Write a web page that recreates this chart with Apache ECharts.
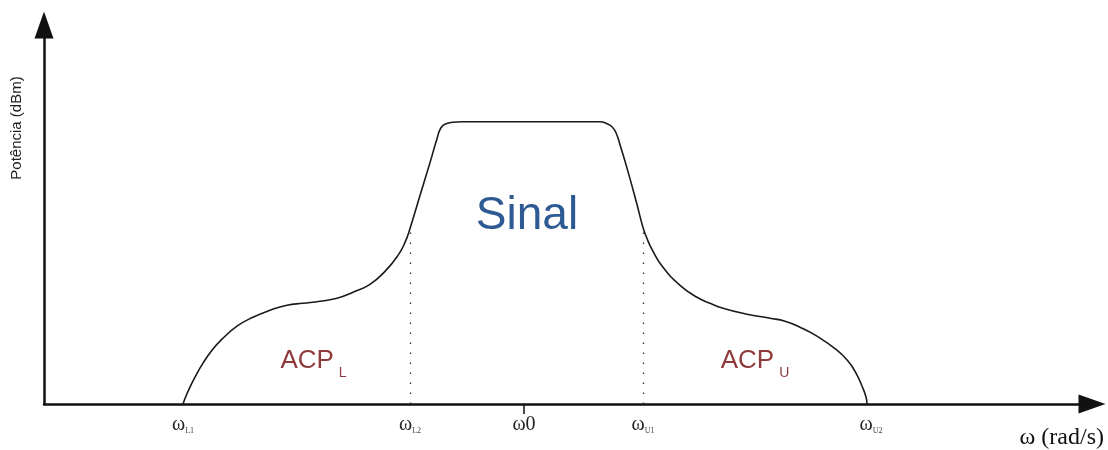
<!DOCTYPE html>
<html>
<head>
<meta charset="utf-8">
<script src="https://cdn.jsdelivr.net/npm/echarts@6/dist/echarts.min.js"></script>
<style>html,body{margin:0;padding:0;background:#fff;}#c{width:1108px;height:450px;}</style>
</head>
<body>
<div id="c"></div>
<script>
// Frequency offset (arbitrary units, ω0 = 0) and power (arbitrary dB units above floor)
const freq = [-34.1,-33.8,-33.4,-32.9,-32.1,-31.2,-30.2,-28.7,-27.1,-25.4,-23.7,-22.1,-20.4,-18.7,-17.1,-15.4,-13.9,-12.6,-11.9,-11.4,
              -10.4,-9.4,-8.7,-8.3,-7.8,-7.1,-6.2,
              7.6,8.3,8.8,9.2,9.6,10.4,11.3,11.9,12.3,12.8,13.9,15.6,17.3,18.6,19.9,22.3,24.6,26.1,27.6,29.3,31.3,32.4,33.2,33.8,34.2,34.3];
const power = [0,0.8,1.7,2.7,4.1,5.4,6.5,7.8,8.7,9.4,9.9,10.1,10.3,10.6,11.2,12.0,13.3,14.9,16.2,17.6,
               20.9,24.2,26.6,27.7,28.1,28.25,28.3,
               28.3,28.1,27.8,27.2,26.0,23.3,20.0,17.7,16.6,15.5,13.7,11.9,10.7,10.1,9.6,9.0,8.6,8.3,7.7,6.8,5.4,4.3,3.1,1.8,0.7,0];
const tickValues = [-34.1, -11.4, 0, 11.9, 34.7];
const tickLabels = ['{w|ω}{s|L1}', '{w|ω}{s|L2}', '{w|ω0}', '{w|ω}{s|U1}', '{w|ω}{s|U2}'];
const boundaryFreq = [-11.4, 11.9];
const boundaryPower = [17.3, 17.3];
const annotations = [
  {name: 'Sinal', freq: 0.3, power: 18.8},
  {name: 'ACP_L', freq: -21.05, power: 4.3},
  {name: 'ACP_U', freq: 23.1, power: 4.3}
];
const xName = 'ω (rad/s)';
const yName = 'Potência (dBm)';

const chart = echarts.init(document.getElementById('c'), null, {renderer: 'canvas'});
const curve = freq.map((f, i) => [f, power[i]]);
const ann = annotations.map(a => {
  let fmt;
  if (a.name === 'Sinal') { fmt = '{b|Sinal}'; }
  else { const p = a.name.split('_'); fmt = '{a|' + p[0] + '}{s|' + p[1] + '}'; }
  return {coord: [a.freq, a.power], value: a.name, fmt: fmt};
});
const option = {
  animation: false,
  grid: {left: 44, right: 16, top: 25, bottom: 45},
  xAxis: {
    type: 'value', min: -48, max: 56.8,
    axisLine: {show: true, lineStyle: {color: '#111', width: 2.5}, symbol: ['none', 'triangle'], symbolSize: [19, 27]},
    axisTick: {show: true, customValues: [0], length: 10, lineStyle: {color: '#111', width: 1.5}},
    splitLine: {show: false},
    axisLabel: {
      customValues: tickValues, margin: 11,
      formatter: v => { const i = tickValues.indexOf(v); return i >= 0 ? tickLabels[i] : ''; },
      rich: {
        w: {fontFamily: 'Liberation Serif', fontSize: 20, color: '#222'},
        s: {fontFamily: 'Liberation Serif', fontSize: 8, color: '#444', verticalAlign: 'bottom', padding: [7, 0, 0, 0]}
      }
    },
    name: xName, nameLocation: 'end', nameGap: 0,
    nameTextStyle: {fontFamily: 'Liberation Serif', fontSize: 24, color: '#111', align: 'right', verticalAlign: 'top', padding: [22, -12, 0, 0]}
  },
  yAxis: {
    type: 'value', min: 0, max: 38,
    axisLine: {show: true, onZero: false, lineStyle: {color: '#111', width: 2.5}, symbol: ['none', 'triangle'], symbolSize: [19, 27]},
    axisTick: {show: false}, axisLabel: {show: false}, splitLine: {show: false}
  },
  graphic: [{
    type: 'text', x: 17, y: 128, rotation: Math.PI / 2,
    style: {text: yName, fontFamily: 'Liberation Sans', fontSize: 15, fill: '#222', align: 'center', verticalAlign: 'middle'}
  }],
  series: [{
    type: 'line', data: curve, smooth: 0.5, symbol: 'none', clip: false,
    lineStyle: {color: '#1a1a1a', width: 1.6},
    markLine: {
      silent: true, symbol: 'none', label: {show: false},
      lineStyle: {color: '#333', width: 1.3, type: [1.5, 8.5]},
      data: boundaryFreq.map((f, i) => [{coord: [f, 0]}, {coord: [f, boundaryPower[i]]}])
    },
    markPoint: {
      silent: true, symbol: 'circle', symbolSize: 0,
      data: ann.map(a => ({coord: a.coord, value: a.value, label: {formatter: a.fmt}})),
      label: {
        show: true, position: 'inside',
        rich: {
          b: {fontFamily: 'Liberation Sans', fontSize: 46, color: '#2e5a94'},
          a: {fontFamily: 'Liberation Sans', fontSize: 26, color: '#8f3b3b', lineHeight: 30},
          s: {fontFamily: 'Liberation Sans', fontSize: 14, color: '#8f3b3b', verticalAlign: 'bottom', lineHeight: 14, padding: [0, 0, -4, 5]}
        }
      }
    }
  }]
};
chart.setOption(option);
</script>
</body>
</html>
